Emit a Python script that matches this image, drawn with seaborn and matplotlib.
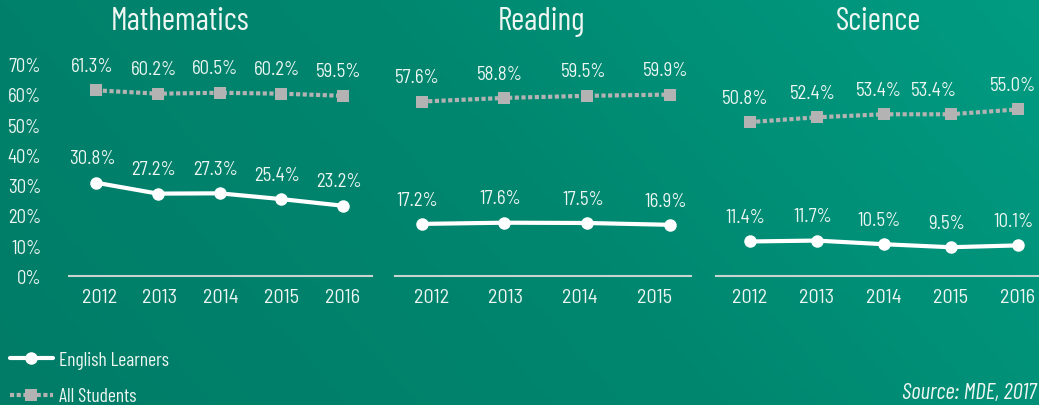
import os
import numpy as np
import pandas as pd
import seaborn as sns
import matplotlib.pyplot as plt
from matplotlib import font_manager as fm
from matplotlib.colors import LinearSegmentedColormap
from matplotlib.lines import Line2D

# data
math_years = ['2012', '2013', '2014', '2015', '2016']
math_el = [30.8, 27.2, 27.3, 25.4, 23.2]
math_all = [61.3, 60.2, 60.5, 60.2, 59.5]

reading_years = ['2012', '2013', '2014', '2015']
reading_el = [17.2, 17.6, 17.5, 16.9]
reading_all = [57.6, 58.8, 59.5, 59.9]

science_years = ['2012', '2013', '2014', '2015', '2016']
science_el = [11.4, 11.7, 10.5, 9.5, 10.1]
science_all = [50.8, 52.4, 53.4, 53.4, 55.0]

y_ticks = [0, 10, 20, 30, 40, 50, 60, 70]

sns.set_style('white')

# narrow gothic faces, if the system has them
files = {os.path.basename(f): f for f in fm.findSystemFonts()}


def load(*names):
    for n in names:
        if n in files:
            fm.fontManager.addfont(files[n])
            return fm.FontProperties(fname=files[n]).get_name()
    return None


cond = load('BarlowCondensed-Regular.ttf', 'NotoSans-ExtraCondensed.ttf')
load('BarlowCondensed-Italic.ttf', 'NotoSans-ExtraCondensedItalic.ttf')
semi = load('BarlowSemiCondensed-Regular.ttf', 'NotoSans-Condensed.ttf')
SCALE = 1.0 if cond else 0.8
COND = [cond, 'DejaVu Sans'] if cond else ['DejaVu Sans']
SEMI = [semi, 'DejaVu Sans'] if semi else COND
plt.rcParams['font.family'] = SEMI

WHITE = '#FFFFFF'
GREY = '#B3B3B3'
SPINE = '#C9D3CF'
TXT = '#EEF6F2'
FS = 13.5 * SCALE

fig = plt.figure(figsize=(10.39, 4.06), dpi=100)

# gradient background
bg = fig.add_axes([0, 0, 1, 1], zorder=-10)
cmap = LinearSegmentedColormap.from_list('bg', ['#007C67', '#00866F', '#009C82'])
gx, gy = np.meshgrid(np.linspace(0, 1, 300), np.linspace(0, 1, 120))
grad = 0.75 * gx + 0.25 * (1 - gy)
bg.imshow(grad, cmap=cmap, aspect='auto', extent=[0, 1, 0, 1], origin='upper')
bg.axis('off')

W, H = 1039, 406
bottom = (H - 277) / H
height = 212 / H

panels = [
    # name, years, el, all, left px, right px, xlim, title x px
    ('Mathematics', math_years, math_el, math_all, 69, 372.5, (-0.44, 4.48), 180),
    ('Reading', reading_years, reading_el, reading_all, 395, 691, (-0.32, 3.25), 541),
    ('Science', science_years, science_el, science_all, 716, 1051, (-0.5, 4.5), 878),
]

for i, (name, years, el, allst, lpx, rpx, xlim, tx) in enumerate(panels):
    ax = fig.add_axes([lpx / W, bottom, (rpx - lpx) / W, height])
    ax.patch.set_alpha(0)
    df = pd.DataFrame({'x': np.arange(len(years)), 'el': el, 'all': allst})

    sns.lineplot(data=df, x='x', y='all', ax=ax, color=GREY, lw=3.0,
                 marker='s', markersize=9, markeredgewidth=0,
                 linestyle=(0, (1, 0.6)), dash_capstyle='butt', clip_on=False)
    sns.lineplot(data=df, x='x', y='el', ax=ax, color=WHITE, lw=3.0,
                 marker='o', markersize=9, markeredgewidth=0, clip_on=False)

    for col in ['all', 'el']:
        for xv, yv in zip(df['x'], df[col]):
            dx = -3
            if name == 'Science' and col == 'all' and xv == 3:
                dx = -12
            ax.annotate(f'{yv:.1f}%', (xv, yv), xytext=(dx, 17.5),
                        textcoords='offset points', ha='center', va='center',
                        color=TXT, fontsize=FS, annotation_clip=False)

    ax.set_xlim(*xlim)
    ax.set_ylim(0, 70)
    bounds = np.linspace(xlim[0], xlim[1], len(years) + 1)
    ax.set_xticks(bounds)
    ax.set_xticklabels([''] * len(bounds))
    ax.set_xticks((bounds[:-1] + bounds[1:]) / 2, minor=True)
    ax.set_xticklabels(years, minor=True)
    ax.tick_params(axis='x', which='major', direction='out', length=4,
                   width=1.5, color=SPINE)
    ax.tick_params(axis='x', which='minor', length=0, pad=8.5,
                   labelsize=14.5 * SCALE, labelcolor=TXT)
    ax.set_xlabel('')
    ax.set_ylabel('')

    ax.set_yticks(y_ticks)
    if i == 0:
        ax.set_yticklabels([f'{v}%' for v in y_ticks])
        ax.tick_params(axis='y', length=0, pad=20, labelsize=FS,
                       labelcolor=TXT)
    else:
        ax.set_yticklabels([])
        ax.tick_params(axis='y', length=0)

    for s in ['top', 'right', 'left']:
        ax.spines[s].set_visible(False)
    ax.spines['bottom'].set_color(SPINE)
    ax.spines['bottom'].set_linewidth(1.5)

    fig.text(tx / W, 1 - 22 / H, name, ha='center', va='center',
             color=TXT, fontsize=23 * SCALE, family=COND)

handles = [
    Line2D([], [], color=WHITE, lw=3.0, marker='o', markersize=9,
           markeredgewidth=0),
    Line2D([], [], color=GREY, lw=3.0, marker='s', markersize=9,
           markeredgewidth=0, linestyle=(0, (1, 0.6)), dash_capstyle='butt'),
]
leg = fig.legend(handles, ['English Learners', 'All Students'],
                 loc='upper left', bbox_to_anchor=(10 / W, 1 - 352 / H),
                 frameon=False, prop={'family': COND, 'size': 14 * SCALE},
                 handlelength=2.2, handletextpad=0.3, labelspacing=0.95,
                 borderpad=0, borderaxespad=0)
for t in leg.get_texts():
    t.set_color(TXT)

fig.text(1036 / W, 1 - 394 / H, 'Source: MDE, 2017', ha='right', va='center',
         color=TXT, fontsize=16.5 * SCALE, style='italic', family=COND)

fig.savefig('out.png', dpi=100)
